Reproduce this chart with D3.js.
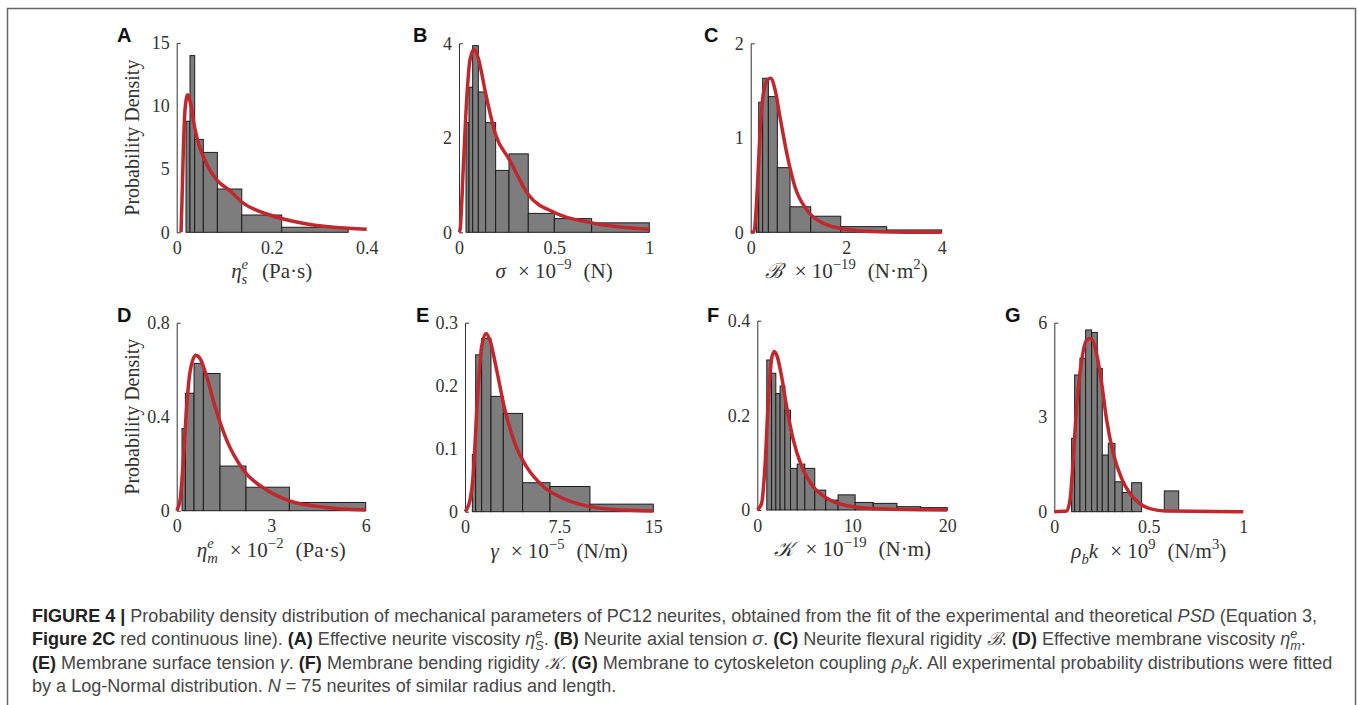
<!DOCTYPE html>
<html>
<head>
<meta charset="utf-8">
<script src="https://cdn.jsdelivr.net/npm/d3@7"></script>
<style>
  body { margin: 0; background: #fff; }
  svg { display: block; }
</style>
</head>
<body>
<svg id="fig" width="1358" height="705"></svg>
<script>
// ---- data ----
// A: effective neurite viscosity
var aEdges = [0.0196, 0.028, 0.0379, 0.056, 0.0856, 0.137, 0.221, 0.361];
var aDens = [8.8, 14.0, 7.36, 6.33, 3.43, 1.37, 0.40];
var aFitX = [0.0091, 0.0112, 0.014, 0.0175, 0.0232, 0.028, 0.0379, 0.047, 0.056, 0.07, 0.0856, 0.112, 0.137, 0.196, 0.26, 0.33, 0.4];
var aFitY = [0, 2.6, 6.5, 9.7, 10.9, 10.4, 8.3, 6.9, 6.0, 4.9, 4.1, 3.3, 2.4, 1.37, 0.76, 0.4, 0.24];
var aXTicks = [0, 0.2, 0.4];
var aYTicks = [0, 5, 10, 15];

// B: axial tension
var bEdges = [0.0368, 0.0525, 0.0718, 0.1016, 0.140, 0.1926, 0.2627, 0.364, 0.501, 0.697, 1.0];
var bDens = [2.32, 3.07, 3.95, 2.97, 2.32, 1.31, 1.66, 0.40, 0.29, 0.20];
var bFitX = [0, 0.0053, 0.0228, 0.0403, 0.0578, 0.0788, 0.1016, 0.14, 0.193, 0.263, 0.364, 0.501, 0.697, 1.0];
var bFitY = [0, 0.05, 1.39, 2.8, 3.65, 3.87, 3.68, 2.94, 2.06, 1.55, 0.8, 0.42, 0.2, 0.065];
var bXTicks = [0, 0.5, 1];
var bYTicks = [0, 2, 4];

// C: flexural rigidity
var cEdges = [0.119, 0.168, 0.251, 0.37, 0.558, 0.824, 1.257, 1.885, 2.848, 4.0];
var cDens = [0.42, 1.376, 1.63, 1.436, 0.684, 0.27, 0.17, 0.06, 0.025];
var cFitX = [0, 0.07, 0.126, 0.195, 0.265, 0.349, 0.419, 0.51, 0.614, 0.754, 0.928, 1.17, 1.52, 2.01, 2.71, 4.0];
var cFitY = [0, 0.007, 0.34, 1.05, 1.47, 1.61, 1.63, 1.51, 1.22, 0.84, 0.48, 0.24, 0.095, 0.03, 0.007, 0];
var cXTicks = [0, 2, 4];
var cYTicks = [0, 1, 2];

// D: membrane viscosity
var dEdges = [0.169, 0.275, 0.55, 0.847, 1.376, 2.2, 3.577, 6.0];
var dDens = [0.35, 0.50, 0.627, 0.584, 0.19, 0.10, 0.035];
var dFitX = [0, 0.106, 0.212, 0.317, 0.423, 0.603, 0.741, 0.952, 1.217, 1.587, 2.116, 2.857, 3.6, 4.76, 6.0];
var dFitY = [0, 0.045, 0.216, 0.443, 0.59, 0.662, 0.648, 0.57, 0.443, 0.30, 0.173, 0.088, 0.041, 0.014, 0.003];
var dXTicks = [0, 3, 6];
var dYTicks = [0, 0.4, 0.8];

// E: surface tension
var eEdges = [0.584, 0.85, 1.327, 2.07, 3.05, 4.59, 6.77, 9.955, 15];
var eDens = [0.091, 0.249, 0.275, 0.183, 0.156, 0.046, 0.040, 0.012];
var eFitX = [0, 0.398, 0.664, 0.982, 1.327, 1.672, 1.99, 2.52, 3.19, 3.98, 4.91, 6.24, 7.83, 9.96, 12.6, 15];
var eFitY = [0, 0.0185, 0.061, 0.177, 0.262, 0.283, 0.272, 0.225, 0.161, 0.108, 0.071, 0.040, 0.021, 0.008, 0.0026, 0.001];
var eXTicks = [0, 7.5, 15];
var eYTicks = [0, 0.1, 0.2, 0.3];

// F: bending rigidity
var fEdges = [1.0, 1.5, 1.95, 2.4, 2.9, 3.5, 4.2, 5.0, 6.05, 7.2, 8.5, 10.3, 12.2, 14.7, 17.2, 20];
var fDens = [0.317, 0.289, 0.246, 0.262, 0.211, 0.088, 0.097, 0.088, 0.042, 0.021, 0.032, 0.016, 0.014, 0.007, 0.005];
var fFitX = [0, 0.456, 0.807, 1.16, 1.51, 1.79, 2.1, 2.56, 3.09, 3.79, 4.67, 5.9, 7.65, 10.1, 13.6, 20];
var fFitY = [0, 0.014, 0.092, 0.232, 0.32, 0.335, 0.324, 0.282, 0.218, 0.148, 0.092, 0.049, 0.021, 0.007, 0.002, 0];
var fXTicks = [0, 10, 20];
var fYTicks = [0, 0.2, 0.4];

// G: membrane-cytoskeleton coupling
var gEdges = [0.0917, 0.1076, 0.1358, 0.1658, 0.1975, 0.2275, 0.254, 0.2857, 0.321, 0.3598, 0.4092, 0.4621, 0.582, 0.658];
var gDens = [2.33, 4.34, 4.87, 5.77, 5.69, 4.55, 1.80, 2.17, 0.95, 0.61, 0.92, 0, 0.66];
var gFitX = [0, 0.065, 0.083, 0.1, 0.118, 0.145, 0.171, 0.192, 0.215, 0.247, 0.277, 0.312, 0.356, 0.4, 0.453, 0.541, 0.612, 1.0];
var gFitY = [0, 0.02, 0.37, 1.64, 3.33, 4.81, 5.45, 5.5, 5.24, 4.23, 2.91, 1.85, 1.06, 0.58, 0.26, 0.05, 0.02, 0];
var gXTicks = [0, 0.5, 1];
var gYTicks = [0, 3, 6];

// x-axis labels (text, kind): i italic, ^ sup, _ sub, < stacked under previous sup
var aLabel = [["η","i"],["e","^i"],["s","_i<"],["(Pa·s)","r",14]];
var bLabel = [["σ","i"],["× 10","r",12],["−9","^"],["(N)","r",12]];
var cLabel = [["ℬ","i"],["× 10","r",12],["−19","^"],["(N·m","r",12],["2","^"],[")","r"]];
var dLabel = [["η","i"],["e","^i"],["m","_i<"],["× 10","r",12],["−2","^"],["(Pa·s)","r",12]];
var eLabel = [["γ","i"],["× 10","r",12],["−5","^"],["(N/m)","r",12]];
var fLabel = [["𝒦","i"],["× 10","r",12],["−19","^"],["(N·m)","r",12]];
var gLabel = [["ρ","i"],["b","_i"],["k","i"],["× 10","r",12],["9","^"],["(N/m","r",12],["3","^"],[")","r"]];

var captionLines = [
  [["FIGURE 4 | ","b"],["Probability density distribution of mechanical parameters of PC12 neurites, obtained from the fit of the experimental and theoretical ","r"],["PSD","i"],[" (Equation 3,","r"]],
  [["Figure 2C","b"],[" red continuous line). ","r"],["(A)","b"],[" Effective neurite viscosity ","r"],["η","i"],["e","^i"],["S","_i<"],[". ","r"],["(B)","b"],[" Neurite axial tension ","r"],["σ","i"],[". ","r"],["(C)","b"],[" Neurite flexural rigidity ","r"],["ℬ","i"],[". ","r"],["(D)","b"],[" Effective membrane viscosity ","r"],["η","i"],["e","^i"],["m","_i<"],[".","r"]],
  [["(E)","b"],[" Membrane surface tension ","r"],["γ","i"],[". ","r"],["(F)","b"],[" Membrane bending rigidity ","r"],["𝒦","i"],[". ","r"],["(G)","b"],[" Membrane to cytoskeleton coupling ","r"],["ρ","i"],["b","_i"],["k","i"],[". All experimental probability distributions were fitted","r"]],
  [["by a Log-Normal distribution. ","r"],["N","i"],[" = 75 neurites of similar radius and length.","r"]]
];

// ---- layout ----
var panels = [
  {id:"A", edges:aEdges, dens:aDens, fitX:aFitX, fitY:aFitY, xMax:0.4, yMax:15,  xTicks:aXTicks, yTicks:aYTicks, label:aLabel, box:[176.7, 366.7, 43, 232.3], tag:[117, 41.7], ylab:true},
  {id:"B", edges:bEdges, dens:bDens, fitX:bFitX, fitY:bFitY, xMax:1,   yMax:4,   xTicks:bXTicks, yTicks:bYTicks, label:bLabel, box:[459, 649.3, 43.3, 232.3], tag:[413, 41.7]},
  {id:"C", edges:cEdges, dens:cDens, fitX:cFitX, fitY:cFitY, xMax:4,   yMax:2,   xTicks:cXTicks, yTicks:cYTicks, label:cLabel, box:[750.7, 941.7, 43.3, 232.3], tag:[704, 41.7]},
  {id:"D", edges:dEdges, dens:dDens, fitX:dFitX, fitY:dFitY, xMax:6,   yMax:0.8, xTicks:dXTicks, yTicks:dYTicks, label:dLabel, box:[176.7, 365.7, 322.7, 510.7], tag:[117, 321.7], ylab:true},
  {id:"E", edges:eEdges, dens:eDens, fitX:eFitX, fitY:eFitY, xMax:15,  yMax:0.3, xTicks:eXTicks, yTicks:eYTicks, label:eLabel, box:[465, 653.3, 322.7, 511.7], tag:[416, 321.7]},
  {id:"F", edges:fEdges, dens:fDens, fitX:fFitX, fitY:fFitY, xMax:20,  yMax:0.4, xTicks:fXTicks, yTicks:fYTicks, label:fLabel, box:[757.3, 947.3, 320.7, 510], tag:[707, 321.7]},
  {id:"G", edges:gEdges, dens:gDens, fitX:gFitX, fitY:gFitY, xMax:1,   yMax:6,   xTicks:gXTicks, yTicks:gYTicks, label:gLabel, box:[1054.3, 1243.3, 322.7, 511.7], tag:[1005, 321.7]}
];

var SERIF = "'Liberation Serif','Times New Roman',serif";
var SANS = "'Liberation Sans',Arial,sans-serif";

var svg = d3.select("#fig");

// outer frame
svg.append("path")
  .attr("d", "M7.5,712V8.5H1355.5V712")
  .attr("fill", "none")
  .attr("stroke", "#666")
  .attr("stroke-width", 1.5);

// writes text parts with italic / super / subscript tspans
function mathText(text, parts, size, opts) {
  opts = opts || {};
  var shift = 0, supW = 0, pending = 0;
  parts.forEach(function(p) {
    var kind = p[1];
    var s = text.append("tspan").text(p[0]);
    var target = 0;
    var dx = (p[2] || 0) + pending;
    pending = 0;
    if (kind.indexOf("i") >= 0) s.style("font-style", "italic");
    if (kind.indexOf("b") >= 0) {
      s.style("font-weight", "bold");
      if (opts.boldColor) s.attr("fill", opts.boldColor);
    }
    if (kind.indexOf("^") >= 0) { target = -0.42 * size; s.attr("font-size", size * 0.7); }
    if (kind.indexOf("_") >= 0) { target = 0.28 * size; s.attr("font-size", size * 0.7); }
    if (kind.indexOf("<") >= 0) dx -= supW;
    if (dx) s.attr("dx", dx);
    if (target - shift) s.attr("dy", target - shift);
    shift = target;
    if (kind.indexOf("^") >= 0) supW = s.node().getComputedTextLength();
    if (kind.indexOf("<") >= 0) pending = Math.max(0, supW - s.node().getComputedTextLength());
  });
  if (shift) text.append("tspan").attr("dy", -shift).text("");
}

panels.forEach(function(p) {
  var x = d3.scaleLinear().domain([0, p.xMax]).range([p.box[0], p.box[1]]);
  var y = d3.scaleLinear().domain([0, p.yMax]).range([p.box[3], p.box[2]]);
  var g = svg.append("g").attr("class", "panel panel-" + p.id);

  // y axis: line with small inward stub at the ends
  var gy = g.append("g")
    .attr("transform", "translate(" + p.box[0] + ",0)")
    .call(d3.axisLeft(y).tickValues(p.yTicks).tickSize(0).tickSizeOuter(-4).tickPadding(7).tickFormat(String));
  gy.select(".domain").attr("stroke", "#333").attr("stroke-width", 1);
  gy.selectAll("text").attr("font-family", SERIF).attr("font-size", 18).attr("fill", "#333");

  // x axis: tick labels only
  var gx = g.append("g")
    .attr("transform", "translate(0," + y(0) + ")")
    .call(d3.axisBottom(x).tickValues(p.xTicks).tickSize(0).tickPadding(9).tickFormat(String));
  gx.select(".domain").remove();
  gx.selectAll("text").attr("font-family", SERIF).attr("font-size", 18).attr("fill", "#333");

  // histogram
  var bins = p.dens.map(function(v, i) { return {x0: p.edges[i], x1: p.edges[i + 1], v: v}; })
    .filter(function(b) { return b.v > 0; });
  g.selectAll("rect.bar").data(bins).enter().append("rect")
    .attr("class", "bar")
    .attr("x", function(d) { return x(d.x0); })
    .attr("width", function(d) { return x(d.x1) - x(d.x0); })
    .attr("y", function(d) { return y(d.v); })
    .attr("height", function(d) { return y(0) - y(d.v); })
    .attr("fill", "#7d7d7d")
    .attr("stroke", "#1c1c1c")
    .attr("stroke-width", 1);

  // log-normal fit
  var line = d3.line()
    .x(function(d) { return x(d[0]); })
    .y(function(d) { return y(d[1]); })
    .curve(d3.curveMonotoneX);
  g.append("path")
    .datum(d3.zip(p.fitX, p.fitY))
    .attr("d", line)
    .attr("fill", "none")
    .attr("stroke", "#c1272d")
    .attr("stroke-width", 3.5)
    .attr("stroke-linejoin", "round");

  // panel letter
  g.append("text")
    .attr("x", p.tag[0]).attr("y", p.tag[1])
    .attr("font-family", SANS).attr("font-weight", "bold").attr("font-size", 20)
    .attr("fill", "#111")
    .text(p.id);

  // x label
  var xl = g.append("text")
    .attr("x", (p.box[0] + p.box[1]) / 2)
    .attr("y", p.box[3] + 46)
    .attr("text-anchor", "middle")
    .attr("font-family", SERIF).attr("font-size", 21).attr("fill", "#333");
  mathText(xl, p.label, 21);

  if (p.ylab) {
    g.append("text")
      .attr("transform", "translate(" + (p.box[0] - 38) + "," + ((p.box[2] + p.box[3]) / 2) + ")rotate(-90)")
      .attr("text-anchor", "middle")
      .attr("font-family", SERIF).attr("font-size", 20).attr("fill", "#333")
      .text("Probability Density");
  }
});

// caption: font size chosen so the first line spans the printed width
function drawCaption(fs) {
  var g = svg.append("g")
    .attr("class", "caption")
    .attr("font-family", SANS)
    .attr("font-size", fs)
    .attr("fill", "#474747");
  var first = null;
  captionLines.forEach(function(parts, i) {
    var t = g.append("text").attr("x", 32).attr("y", 622 + i * 23.3);
    mathText(t, parts, fs, {boldColor: "#222"});
    if (!first) first = t;
  });
  return {g: g, width: first.node().getBBox().width};
}
var trial = drawCaption(15);
var fitSize = 15 * 1286 / trial.width;
trial.g.remove();
drawCaption(fitSize);
</script>
</body>
</html>
